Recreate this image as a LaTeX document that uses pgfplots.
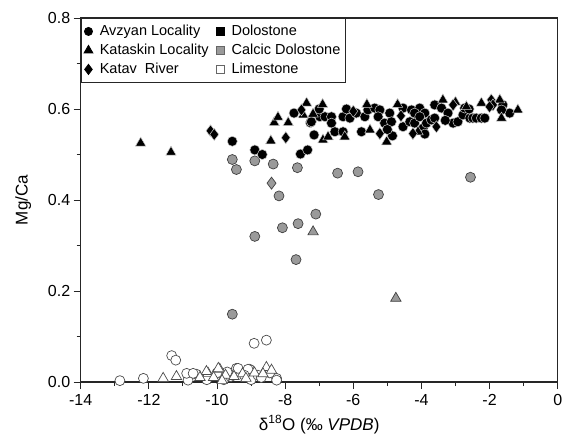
\documentclass[border=0pt]{standalone}
\usepackage{fontspec}
\setmainfont{Liberation Sans}
\usepackage{pgfplots}
\pgfplotsset{compat=1.18}
\definecolor{mgray}{HTML}{9A9A9A}
\begin{document}
\begin{tikzpicture}
\begin{axis}[
  scale only axis,
  width=477bp, height=364bp,
  xmin=-14, xmax=0, ymin=0, ymax=0.8,
  xtick={-14,-12,-10,-8,-6,-4,-2,0},
  xticklabels={-14,-12,-10,-8,-6,-4,-2,0},
  ytick={0,0.2,0.4,0.6,0.8},
  yticklabels={0.0,0.2,0.4,0.6,0.8},
  minor x tick num=1, minor y tick num=1,
  tick align=outside, xtick pos=left, ytick pos=left,
  major tick length=7bp, minor tick length=4bp,
  axis line style={line width=1.1bp, black!85},
  every tick/.style={line width=0.9bp, black!85},
  tick label style={font=\fontsize{16bp}{19bp}\selectfont},
  xticklabel style={yshift=-2bp},
  label style={font=\fontsize{17bp}{20bp}\selectfont},
  xlabel={δ\textsuperscript{18}O (‰ \textit{VPDB})},
  xlabel style={yshift=-3bp},
  ylabel={Mg/Ca},
  ylabel style={yshift=10bp},
  clip=false,
  legend columns=2,
  legend style={at={(0,1)}, anchor=north west, draw=black!85, line width=0.9bp,
    font=\fontsize{14.5bp}{18bp}\selectfont, inner xsep=3bp, inner ysep=5bp,
    row sep=3bp,
    /tikz/every odd column/.append style={column sep=5bp},
    /tikz/every even column/.append style={column sep=6bp}},
  legend cell align=left,
]
\addlegendimage{only marks, mark=*, mark size=4bp, black}
\addlegendentry{Avzyan Locality}
\addlegendimage{only marks, mark=square*, mark size=4bp, black}
\addlegendentry{Dolostone}
\addlegendimage{only marks, mark=triangle*, mark size=5bp, black}
\addlegendentry{Kataskin Locality}
\addlegendimage{only marks, mark=square*, mark size=4bp, draw=black!60, fill=mgray}
\addlegendentry{Calcic Dolostone}
\addlegendimage{only marks, mark=diamond*, mark size=5bp, black}
\addlegendentry{Katav\ \ River}
\addlegendimage{only marks, mark=square*, mark size=4bp, draw=black!60, fill=white}
\addlegendentry{Limestone}

% Limestone (white)
\addplot[forget plot, only marks, mark=*, mark size=5bp, mark options={draw=black!70, fill=white, line width=0.7bp}] coordinates {
(-12.85,0.003)(-12.16,0.008)(-11.33,0.058)(-11.21,0.048)(-10.84,0.012)(-10.60,0.017)(-10.85,0.004)(-10.89,0.019)(-10.70,0.019)(-9.43,0.030)(-9.38,0.030)(-9.04,0.028)(-9.09,0.028)(-8.25,0.008)(-8.25,0.004)(-8.91,0.085)(-8.55,0.092)(-9.8,0.005)(-9.6,0.012)(-9.0,0.005)(-8.8,0.015)(-10.0,0.020)(-9.7,0.022)(-8.7,0.010)(-8.45,0.020)(-10.3,0.005)(-9.2,0.015)
};
\addplot[forget plot, only marks, mark=triangle*, mark size=6bp, mark options={draw=black!70, fill=white, line width=0.7bp}] coordinates {
(-11.58,0.008)(-11.19,0.012)(-10.26,0.019)(-9.92,0.028)(-9.96,0.030)(-8.55,0.032)(-8.40,0.026)(-10.31,0.023)(-10.1,0.010)(-9.75,0.015)(-9.5,0.012)(-9.25,0.018)(-9.15,0.008)(-8.9,0.020)(-8.65,0.018)(-10.5,0.010)(-9.85,0.003)
};
% Calcic dolostone (gray)
\addplot[forget plot, only marks, mark=*, mark size=5bp, mark options={draw=black!75, fill=mgray, line width=0.7bp}] coordinates {
(-9.55,0.489)(-9.43,0.467)(-8.89,0.486)(-8.35,0.479)(-7.64,0.471)(-8.18,0.409)(-7.10,0.369)(-7.62,0.348)(-8.08,0.339)(-8.89,0.320)(-7.68,0.269)(-9.55,0.149)(-6.46,0.459)(-5.86,0.462)(-5.26,0.412)(-2.56,0.450)
};
\addplot[forget plot, only marks, mark=diamond*, mark size=6bp, mark options={draw=black!75, fill=mgray, line width=0.7bp}] coordinates {(-8.40,0.437)};
\addplot[forget plot, only marks, mark=triangle*, mark size=6bp, mark options={draw=black!75, fill=mgray, line width=0.7bp}] coordinates {(-7.18,0.330)(-4.75,0.184)};
% Dolostone (black)
\addplot[forget plot, only marks, mark=*, mark size=5bp, mark options={draw=white!80!black, fill=black, line width=0.5bp}] coordinates {
(-9.55,0.529)(-8.89,0.510)(-8.67,0.500)(-7.74,0.591)(-7.26,0.570)(-7.15,0.543)(-7.55,0.501)(-7.34,0.510)(-7.23,0.572)(-6.98,0.583)(-6.83,0.583)(-6.64,0.583)(-6.64,0.569)(-6.54,0.550)(-6.30,0.583)(-6.10,0.580)(-5.91,0.591)(-5.66,0.583)(-5.57,0.598)(-5.76,0.550)(-5.37,0.602)(-5.22,0.598)(-5.27,0.583)(-5.08,0.569)(-4.93,0.591)(-4.88,0.572)(-4.85,0.541)(-4.54,0.602)(-4.29,0.598)(-4.05,0.602)(-4.20,0.591)(-3.90,0.591)(-4.54,0.561)(-4.34,0.572)(-4.20,0.569)(-3.95,0.558)(-4.05,0.583)(-3.85,0.569)(-3.71,0.576)(-3.61,0.580)(-3.61,0.609)(-3.41,0.602)(-3.22,0.591)(-3.07,0.569)(-2.93,0.572)(-2.78,0.587)(-2.73,0.602)(-2.58,0.580)(-2.49,0.580)(-2.39,0.580)(-2.24,0.580)(-2.14,0.580)(-1.61,0.609)(-1.41,0.591)(-1.65,0.598)(-6.30,0.550)(-7.0,0.600)(-6.2,0.600)(-5.0,0.555)(-3.3,0.575)(-2.6,0.600)(-3.9,0.545)
};
\addplot[forget plot, only marks, mark=triangle*, mark size=6bp, mark options={draw=white!80!black, fill=black, line width=0.5bp}] coordinates {
(-12.24,0.525)(-11.35,0.505)(-8.32,0.570)(-8.21,0.582)(-7.91,0.570)(-7.37,0.613)(-8.42,0.530)(-7.47,0.587)(-7.18,0.589)(-6.89,0.532)(-6.74,0.539)(-6.25,0.539)(-5.51,0.554)(-5.02,0.528)(-3.37,0.620)(-2.68,0.605)(-2.24,0.613)(-1.70,0.620)(-1.17,0.598)(-1.65,0.580)(-5.6,0.61)(-4.7,0.61)(-6.9,0.61)(-3.0,0.615)(-4.1,0.55)
};
\addplot[forget plot, only marks, mark=diamond*, mark size=6bp, mark options={draw=white!80!black, fill=black, line width=0.5bp}] coordinates {
(-10.19,0.552)(-10.08,0.544)(-7.98,0.537)(-7.52,0.598)(-5.22,0.546)(-4.25,0.546)(-3.56,0.561)(-3.07,0.609)(-1.95,0.620)(-1.90,0.609)(-6.0,0.595)(-4.6,0.585)(-2.0,0.605)
};
\end{axis}
\pgfresetboundingbox
\path (current axis.south west) ++(-80.7bp,-55bp) rectangle ++(564bp,437bp);
\end{tikzpicture}
\end{document}
